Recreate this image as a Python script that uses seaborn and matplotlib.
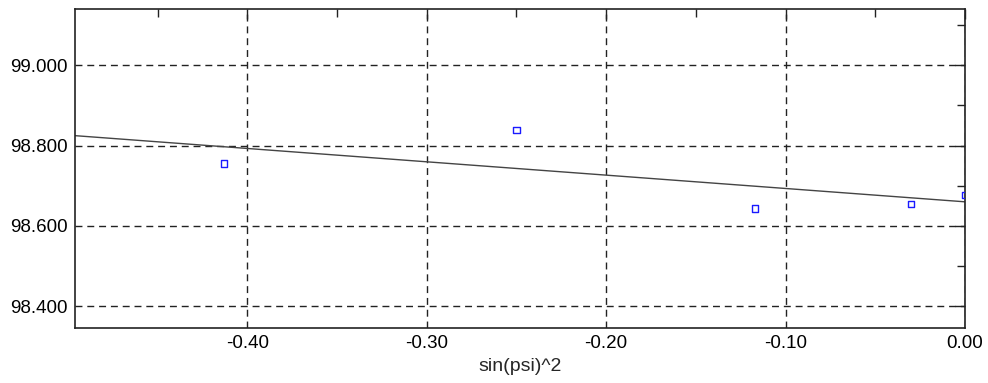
import numpy as np
import pandas as pd
import seaborn as sns
import matplotlib.pyplot as plt
from matplotlib.ticker import MultipleLocator, FormatStrFormatter

sin_psi_sq = [-0.413, -0.250, -0.117, -0.030, 0.000]
d_spacing = [98.756, 98.839, 98.643, 98.654, 98.677]

df = pd.DataFrame({'sin(psi)^2': sin_psi_sq, 'd': d_spacing})

sns.set_style('white')
plt.rcParams['font.family'] = ['Liberation Sans', 'DejaVu Sans']

fig = plt.figure(figsize=(9.88, 3.83), dpi=100)
ax = fig.add_axes([0.0759, 0.1436, 0.9008, 0.832])
ax.set_xlim(-0.496, 0.0)
ax.set_ylim(98.346, 99.139)

# least squares fit, drawn across the whole x range
sns.regplot(data=df, x='sin(psi)^2', y='d', ax=ax, ci=None, truncate=False,
            scatter=False, line_kws={'color': '#444444', 'lw': 1.0})
sns.scatterplot(data=df, x='sin(psi)^2', y='d', ax=ax, marker='s', s=22,
                facecolor='none', edgecolor='#1a1aff', linewidth=1.0, zorder=3)
for coll in ax.collections:
    coll.set_clip_on(True)
    coll.set_clip_box(ax.bbox)

ax.set_xlim(-0.496, 0.0)
ax.set_ylim(98.346, 99.139)
ax.xaxis.set_major_locator(MultipleLocator(0.1))
ax.xaxis.set_minor_locator(MultipleLocator(0.05))
ax.yaxis.set_major_locator(MultipleLocator(0.2))
ax.yaxis.set_minor_locator(MultipleLocator(0.1))
ax.xaxis.set_major_formatter(FormatStrFormatter('%.2f'))
ax.yaxis.set_major_formatter(FormatStrFormatter('%.3f'))

ax.tick_params(axis='both', which='both', direction='in', top=True, right=True,
               colors='#222222', labelcolor='black')
ax.tick_params(axis='both', which='major', length=7, width=1, labelsize=13.5, pad=5)
ax.tick_params(axis='both', which='minor', length=6, width=1)

ax.grid(True, which='major', color='#222222', linestyle=(0, (5, 3.5)), linewidth=1.0)
for sp in ax.spines.values():
    sp.set_color('#222222')
    sp.set_linewidth(1.2)

ax.set_xlabel('sin(psi)^2', fontsize=14, labelpad=4)
ax.set_ylabel('')

fig.savefig('out.png', dpi=100)
